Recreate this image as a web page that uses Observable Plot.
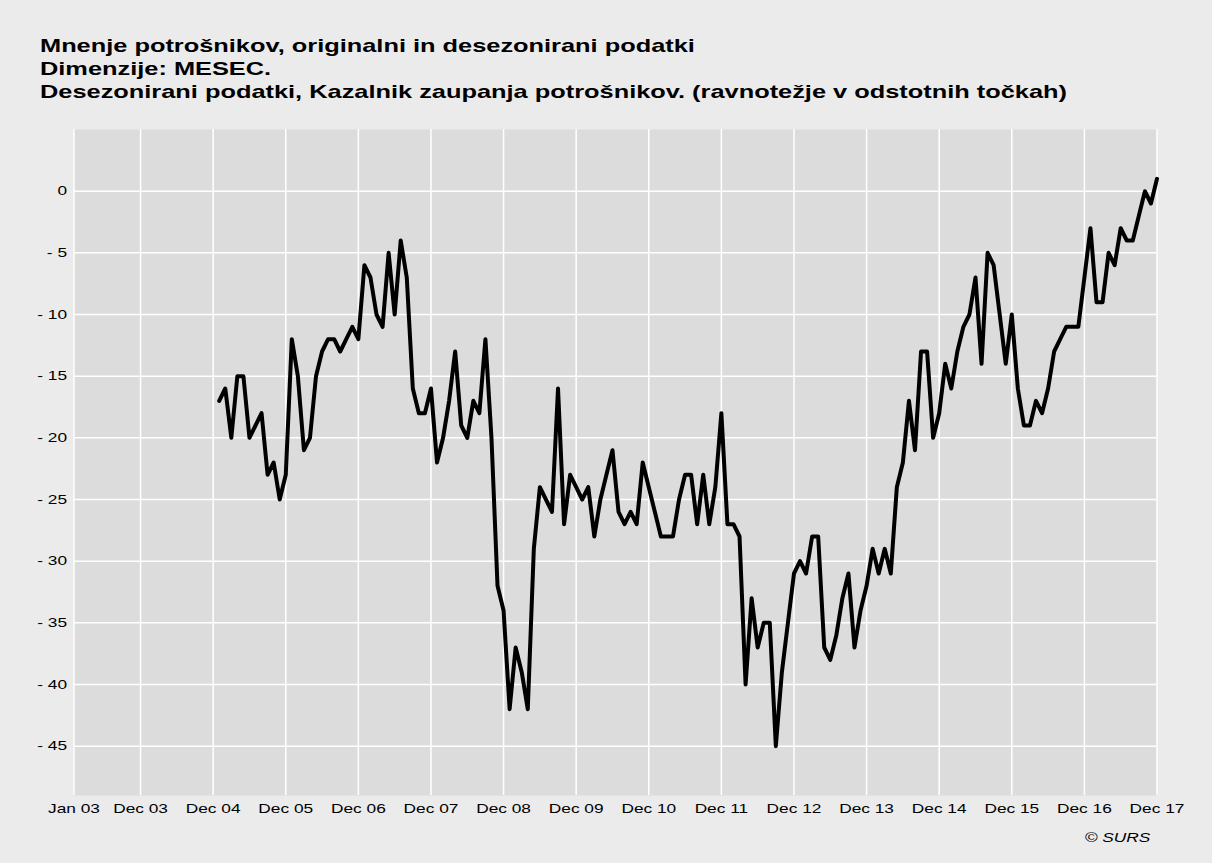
<!DOCTYPE html>
<html>
<head>
<meta charset="utf-8">
<script src="https://cdn.jsdelivr.net/npm/d3@7"></script>
<script src="https://cdn.jsdelivr.net/npm/@observablehq/plot@0.6"></script>
<style>
  body { margin: 0; background: #ebebeb; }
  #wrap { position: relative; width: 1212px; height: 863px; background: #ebebeb; overflow: hidden;
          font-family: "Liberation Sans", Arial, sans-serif; color: #000; }
  #title { position: absolute; left: 40px; top: 34px; font-weight: bold; font-size: 19px; line-height: 23px;
           transform: scaleX(1.335); transform-origin: 0 0; white-space: nowrap; }
  #chart { position: absolute; left: 0; top: 0; }
  #caption { position: absolute; right: 62px; top: 830px; font-style: italic; font-size: 13px;
             transform: scaleX(1.33); transform-origin: 100% 0; white-space: nowrap; }
</style>
</head>
<body>
<div id="wrap">
  <div id="chart"></div>
  <div id="title">
    <div>Mnenje potrošnikov, originalni in desezonirani podatki</div>
    <div>Dimenzije: MESEC.</div>
    <div>Desezonirani podatki, Kazalnik zaupanja potrošnikov. (ravnotežje v odstotnih točkah)</div>
  </div>
  <div id="caption">© SURS</div>
</div>
<script>
// Monthly seasonally adjusted consumer confidence indicator (balance, % points)
const firstYear = 2003;      // axis starts Jan 2003
const dataStartYear = 2005;  // series starts Jan 2005
const y2005 = [-17, -16, -20, -15, -15, -20, -19, -18, -23, -22, -25, -23];
const y2006 = [-12, -15, -21, -20, -15, -13, -12, -12, -13, -12, -11, -12];
const y2007 = [-6, -7, -10, -11, -5, -10, -4, -7, -16, -18, -18, -16];
const y2008 = [-22, -20, -17, -13, -19, -20, -17, -18, -12, -20, -32, -34];
const y2009 = [-42, -37, -39, -42, -29, -24, -25, -26, -16, -27, -23, -24];
const y2010 = [-25, -24, -28, -25, -23, -21, -26, -27, -26, -27, -22, -24];
const y2011 = [-26, -28, -28, -28, -25, -23, -23, -27, -23, -27, -24, -18];
const y2012 = [-27, -27, -28, -40, -33, -37, -35, -35, -45, -39, -35, -31];
const y2013 = [-30, -31, -28, -28, -37, -38, -36, -33, -31, -37, -34, -32];
const y2014 = [-29, -31, -29, -31, -24, -22, -17, -21, -13, -13, -20, -18];
const y2015 = [-14, -16, -13, -11, -10, -7, -14, -5, -6, -10, -14, -10];
const y2016 = [-16, -19, -19, -17, -18, -16, -13, -12, -11, -11, -11, -7];
const y2017 = [-3, -9, -9, -5, -6, -3, -4, -4, -2, 0, -1, 1];
const series = [y2005, y2006, y2007, y2008, y2009, y2010, y2011, y2012, y2013, y2014, y2015, y2016, y2017];

// x-axis tick labels (month index from Jan 2003)
const tickLabels = ["Jan 03", "Dec 03", "Dec 04", "Dec 05", "Dec 06", "Dec 07", "Dec 08", "Dec 09",
                    "Dec 10", "Dec 11", "Dec 12", "Dec 13", "Dec 14", "Dec 15", "Dec 16", "Dec 17"];
const tickIndex = [0, 11, 23, 35, 47, 59, 71, 83, 95, 107, 119, 131, 143, 155, 167, 179];
const yTicks = [0, -5, -10, -15, -20, -25, -30, -35, -40, -45];

const rows = [];
series.forEach((vals, k) => {
  vals.forEach((v, m) => {
    rows.push({ t: (dataStartYear + k - firstYear) * 12 + m, v });
  });
});

const chart = Plot.plot({
  width: 1212,
  height: 863,
  marginTop: 129,
  marginBottom: 68,
  marginLeft: 73.5,
  marginRight: 55.5,
  style: { background: "transparent", fontFamily: "'Liberation Sans', Arial, sans-serif", fontSize: "13px", color: "#000" },
  x: {
    domain: [0, 179],
    ticks: tickIndex,
    tickFormat: (i) => tickLabels[tickIndex.indexOf(i)],
    tickSize: 0,
    tickPadding: 8,
    label: null
  },
  y: {
    domain: [-49, 5],
    ticks: yTicks,
    tickFormat: (d) => (d === 0 ? "0" : "- " + Math.abs(d)),
    tickSize: 0,
    tickPadding: 7,
    label: null
  },
  marks: [
    Plot.frame({ fill: "#dcdcdc", stroke: null }),
    Plot.gridX(tickIndex, { stroke: "white", strokeOpacity: 1, strokeWidth: 1.5 }),
    Plot.gridY(yTicks, { stroke: "white", strokeOpacity: 1, strokeWidth: 1.5 }),
    Plot.lineY(rows, { x: "t", y: "v", stroke: "black", strokeWidth: 4, strokeLinejoin: "round" })
  ]
});
document.getElementById("chart").appendChild(chart);

// horizontally stretched lettering, as in the reference image
chart.querySelectorAll("text").forEach((t) => {
  const len = t.getComputedTextLength();
  if (len > 0) {
    t.setAttribute("textLength", (len * 1.33).toFixed(1));
    t.setAttribute("lengthAdjust", "spacingAndGlyphs");
  }
});
</script>
</body>
</html>
